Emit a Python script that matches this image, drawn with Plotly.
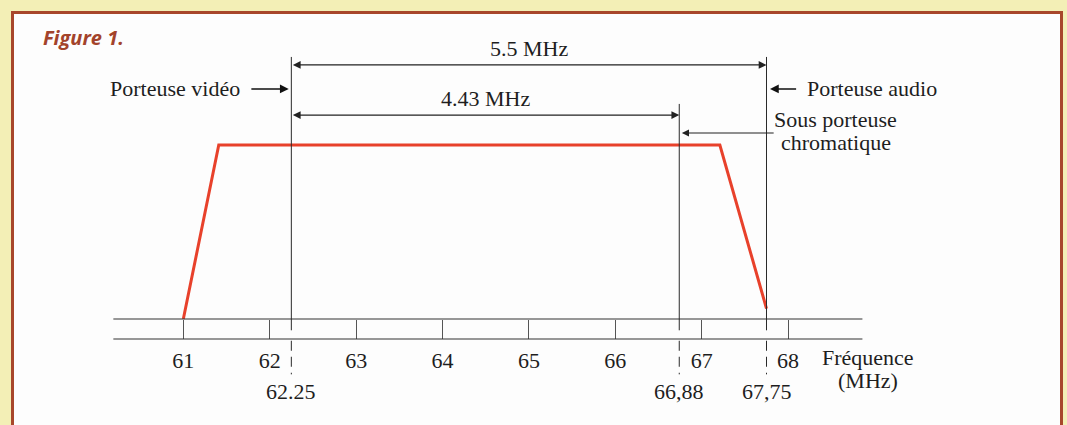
import plotly.graph_objects as go

# ---------------- data ----------------
# spectrum envelope of the TV channel (frequency in MHz, relative level)
band_freq = [61.0, 61.41, 67.21, 67.75]
band_level = [0.0, 1.0, 1.0, 0.06]

# frequency axis
tick_freqs = [61, 62, 63, 64, 65, 66, 67, 68]
tick_labels = ["61", "62", "63", "64", "65", "66", "67", "68"]
axis_extent = [60.19, 68.86]

# carriers: position as drawn in the figure, label printed under the axis
carrier_pos = [62.25, 66.74, 67.75]
carrier_labels = ["62.25", "66,88", "67,75"]
carrier_top = [1.506, 1.236, 1.506]

# dimension arrows
span_labels = ["5.5 MHz", "4.43 MHz"]
span_ends = [67.75, 66.74]
span_levels = [1.46, 1.172]

# ---------------- layout constants ----------------
W, H = 1067, 425
XR = [58.878, 71.228]
YR = [-0.6092, 1.8333]
base_top, base_bot = 0.0, -0.115
serif = "Liberation Serif"
ink = "#1e1e1e"
fs = 22

fig = go.Figure()

fig.add_trace(go.Scatter(x=band_freq, y=band_level, mode="lines",
                         line=dict(color="#e8412b", width=3), hoverinfo="skip",
                         showlegend=False))

shapes = []
# frame
shapes.append(dict(type="rect", xref="paper", yref="paper", x0=12.5 / W, x1=1061.5 / W,
                   y0=-0.2, y1=1 - 12.5 / H, line=dict(color="#a8472b", width=3),
                   fillcolor="#fdfdfd", layer="below"))
# axis band lines
for yv in (base_top, base_bot):
    shapes.append(dict(type="line", xref="x", yref="y", x0=axis_extent[0], x1=axis_extent[1],
                       y0=yv, y1=yv, line=dict(color="#333333", width=1.2)))
# carrier lines (solid above, dashed below the axis)
for xp, top in zip(carrier_pos, carrier_top):
    shapes.append(dict(type="line", xref="x", yref="y", x0=xp, x1=xp, y0=-0.065, y1=top,
                       line=dict(color="#2a2a2a", width=1)))
    shapes.append(dict(type="line", xref="x", yref="y", x0=xp, x1=xp, y0=-0.125, y1=-0.318,
                       line=dict(color="#2a2a2a", width=1, dash="10px,6px")))

ann = []
# dimension arrows
for lab, xe, yl in zip(span_labels, span_ends, span_levels):
    ann.append(dict(x=xe, y=yl, ax=carrier_pos[0], ay=yl, xref="x", yref="y", axref="x", ayref="y",
                    text="", showarrow=True, arrowhead=2, arrowside="end+start", arrowsize=1.3,
                    arrowwidth=1.2, arrowcolor="#222", standoff=0, startstandoff=0))
    ann.append(dict(x=(carrier_pos[0] + xe) / 2, y=yl + 0.093, xref="x", yref="y", text=lab,
                    showarrow=False, font=dict(family=serif, size=fs, color=ink)))

# carrier pointers
ann.append(dict(x=62.22, y=1.322, ax=61.77, ay=1.322, xref="x", yref="y", axref="x", ayref="y",
                text="", showarrow=True, arrowhead=2, arrowsize=1.1, arrowwidth=1.6,
                arrowcolor="#111", standoff=0, startstandoff=0))
ann.append(dict(x=61.68, y=1.322, xref="x", yref="y", text="Porteuse vidéo", xanchor="right",
                showarrow=False, font=dict(family=serif, size=fs, color=ink)))
ann.append(dict(x=67.79, y=1.322, ax=68.11, ay=1.322, xref="x", yref="y", axref="x", ayref="y",
                text="", showarrow=True, arrowhead=2, arrowsize=1.1, arrowwidth=1.6,
                arrowcolor="#111", standoff=0, startstandoff=0))
ann.append(dict(x=68.19, y=1.322, xref="x", yref="y", text="Porteuse audio", xanchor="left",
                showarrow=False, font=dict(family=serif, size=fs, color=ink)))
ann.append(dict(x=66.77, y=1.069, ax=67.85, ay=1.069, xref="x", yref="y", axref="x", ayref="y",
                text="", showarrow=True, arrowhead=2, arrowsize=1.3, arrowwidth=1.1,
                arrowcolor="#222", standoff=0, startstandoff=0))
ann.append(dict(x=68.55, y=1.144, xref="x", yref="y", text="Sous porteuse",
                showarrow=False, font=dict(family=serif, size=fs, color=ink)))
ann.append(dict(x=68.55, y=1.017, xref="x", yref="y", text="chromatique",
                showarrow=False, font=dict(family=serif, size=fs, color=ink)))

# carrier labels below axis
for xp, lab in zip(carrier_pos, carrier_labels):
    ann.append(dict(x=xp, y=-0.414, xref="x", yref="y", text=lab, showarrow=False,
                    font=dict(family=serif, size=fs, color=ink)))

# axis title
ann.append(dict(x=68.93, y=-0.224, xref="x", yref="y", text="Fréquence", showarrow=False,
                font=dict(family=serif, size=fs, color=ink)))
ann.append(dict(x=68.93, y=-0.351, xref="x", yref="y", text="(MHz)", showarrow=False,
                font=dict(family=serif, size=fs, color=ink)))

# figure caption
ann.append(dict(x=59.353, y=1.615, xref="x", yref="y", text="<b><i>Figure 1.</i></b>",
                xanchor="left", showarrow=False,
                font=dict(family="Open Sans", size=20, color="#a3432b")))

pos = (base_bot - YR[0]) / (YR[1] - YR[0])

fig.update_layout(
    width=W, height=H, margin=dict(l=0, r=0, t=0, b=0),
    paper_bgcolor="#f3efb6", plot_bgcolor="rgba(0,0,0,0)",
    shapes=shapes, annotations=ann, showlegend=False,
    xaxis=dict(range=XR, domain=[0, 1], anchor="free", position=pos,
               tickvals=tick_freqs, ticktext=tick_labels, ticks="inside", ticklen=19,
               tickwidth=1, tickcolor="#555555", showline=False, showgrid=False,
               zeroline=False, ticklabelstandoff=6,
               tickfont=dict(family=serif, size=fs, color=ink), fixedrange=True),
    yaxis=dict(range=YR, visible=False, fixedrange=True),
)

fig.write_html("out.html", config={"displayModeBar": False},
               post_script="document.body.style.margin='0';document.body.style.overflow='hidden';")
